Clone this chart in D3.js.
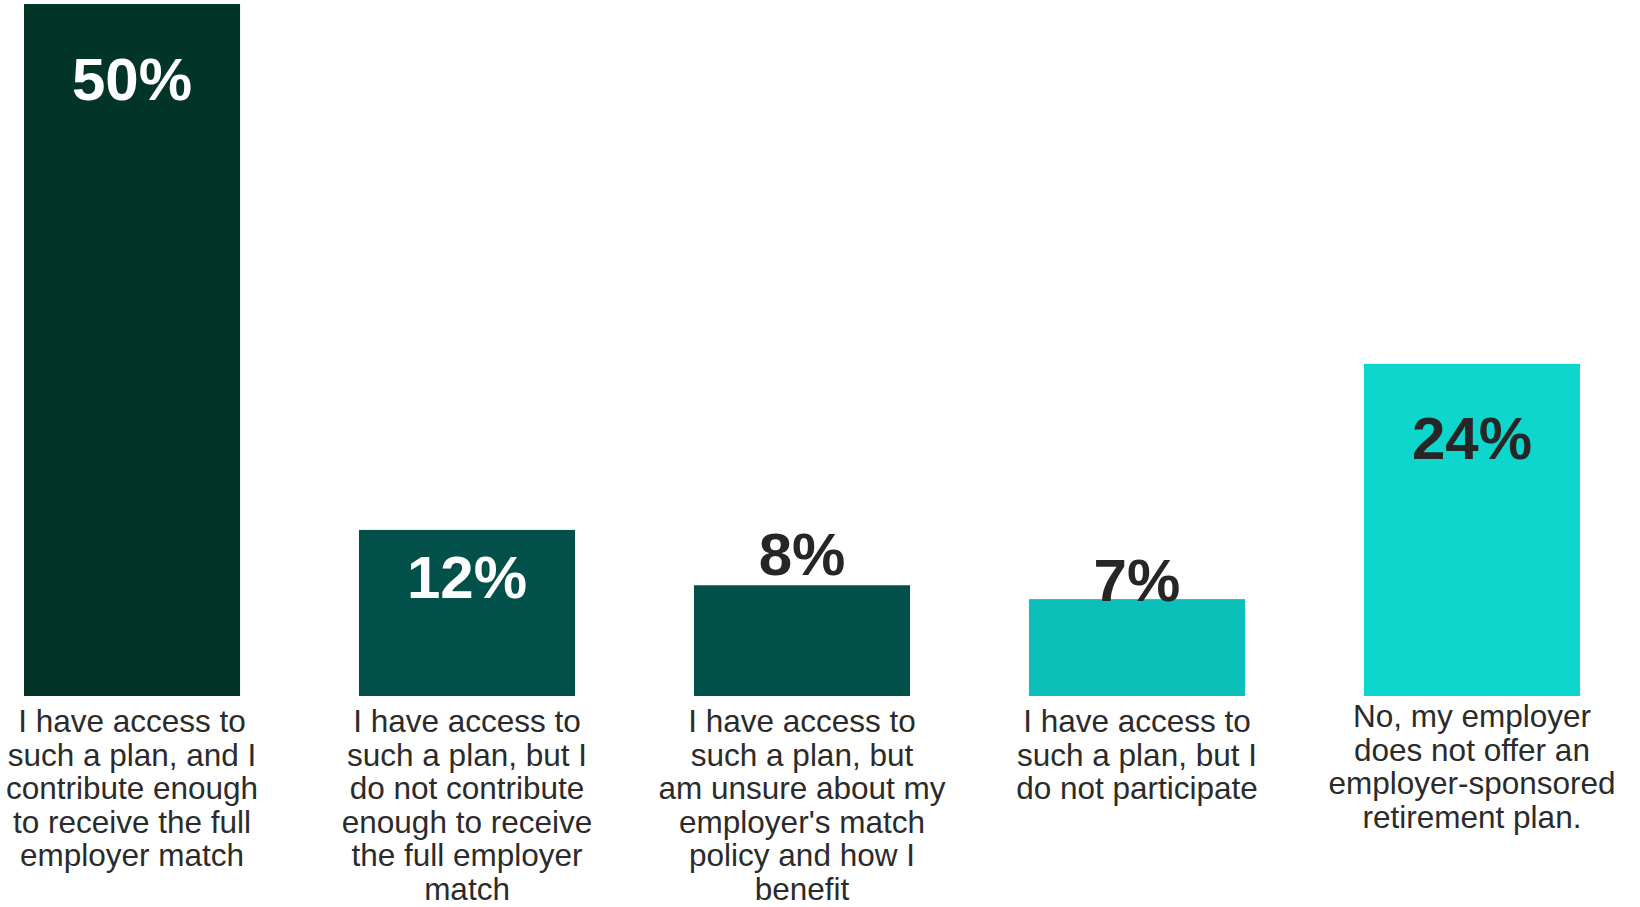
<!DOCTYPE html>
<html>
<head>
<meta charset="utf-8">
<script src="https://cdn.jsdelivr.net/npm/d3@7"></script>
<style>
  html, body { margin: 0; padding: 0; background: #ffffff; }
  svg { display: block; }
  text { font-family: "Liberation Sans", Arial, sans-serif; }
</style>
</head>
<body>
<svg id="chart" width="1640" height="907"></svg>
<script>
// Survey responses: access to an employer-sponsored retirement plan
const categories = [
  "I have access to\nsuch a plan, and I\ncontribute enough\nto receive the full\nemployer match",
  "I have access to\nsuch a plan, but I\ndo not contribute\nenough to receive\nthe full employer\nmatch",
  "I have access to\nsuch a plan, but\nam unsure about my\nemployer's match\npolicy and how I\nbenefit",
  "I have access to\nsuch a plan, but I\ndo not participate",
  "No, my employer\ndoes not offer an\nemployer-sponsored\nretirement plan."
];
const values = [50, 12, 8, 7, 24];
const valueLabels = ["50%", "12%", "8%", "7%", "24%"];

// Presentation settings
const barColors   = ["#033428", "#01504a", "#01504a", "#0bc0b9", "#0dd7cc"];
const labelColors = ["#ffffff", "#ffffff", "#262626", "#262626", "#262626"];
// value label baseline relative to the bar top (positive = inside the bar)
const labelDy     = [96, 68, -10, 2, 95];
// first-line baseline shift for category text
const catDy       = [0, 0, 0, 0, -5];

const svg = d3.select("#chart");
const baseline = 696;

const x = d3.scaleBand()
  .domain(categories)
  .range([24, 1580])
  .paddingInner(0.355)
  .paddingOuter(0);

const y = d3.scaleLinear()
  .domain([0, 50])
  .range([baseline, 4]);

const data = categories.map((c, i) => ({ c, v: values[i], i }));

// labels that sit above their bar go underneath it
const under = data.filter(d => labelDy[d.i] > 0 === false);
const over  = data.filter(d => labelDy[d.i] > 0);

function drawValueLabels(sel) {
  svg.selectAll(null)
    .data(sel)
    .enter().append("text")
    .attr("x", d => x(d.c) + x.bandwidth() / 2)
    .attr("y", d => y(d.v) + labelDy[d.i])
    .attr("text-anchor", "middle")
    .attr("font-weight", "bold")
    .attr("font-size", 60)
    .attr("fill", d => labelColors[d.i])
    .text(d => valueLabels[d.i]);
}

drawValueLabels(under);

svg.selectAll("rect.bar")
  .data(data)
  .enter().append("rect")
  .attr("class", "bar")
  .attr("x", d => x(d.c))
  .attr("y", d => y(d.v))
  .attr("width", x.bandwidth())
  .attr("height", d => y(0) - y(d.v))
  .attr("fill", d => barColors[d.i]);

drawValueLabels(over);

// category labels, one tspan per line
const lineH = 33.6;
const cat = svg.selectAll("text.cat")
  .data(data)
  .enter().append("text")
  .attr("class", "cat")
  .attr("text-anchor", "middle")
  .attr("font-size", 31.5)
  .attr("fill", "#2b2b2b")
  .attr("transform", d => `translate(${x(d.c) + x.bandwidth() / 2},${732 + catDy[d.i]})`);

cat.selectAll("tspan")
  .data(d => d.c.split("\n"))
  .enter().append("tspan")
  .attr("x", 0)
  .attr("y", (l, j) => j * lineH)
  .text(l => l);
</script>
</body>
</html>
